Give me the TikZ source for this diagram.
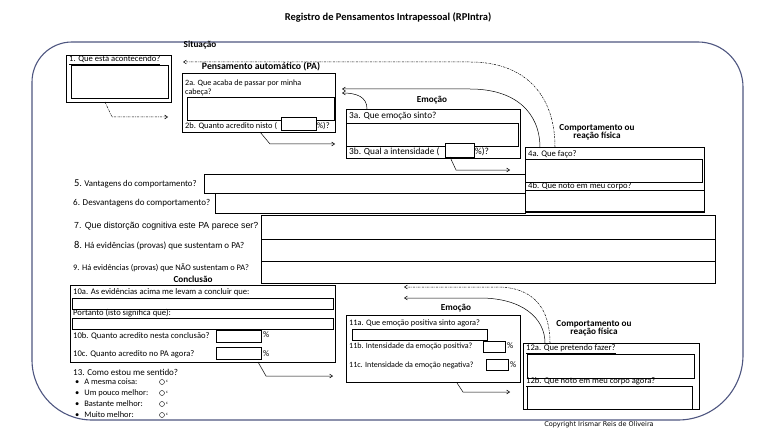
\documentclass[tikz,border=0pt]{standalone}
\usepackage{fontspec}
\setmainfont{Carlito}
\newfontfamily\arialf{Liberation Sans}
\newfontfamily\dejaf{DejaVu Sans}
\usetikzlibrary{arrows.meta}
\definecolor{framec}{RGB}{78,86,128}
\newcommand\bx[6][]{\node[bxs,#1,minimum width={(#5-#3)*1pt},minimum height={(#6-#4)*1pt}] (#2) at (#3,#4) {};}
\newcommand\fs[1]{\fontsize{#1}{#1}\selectfont}
\begin{document}
\begin{tikzpicture}[x=1pt,y=-1pt,
  bxs/.style={draw, line width=0.7pt, anchor=north west, inner sep=0pt, outer sep=0pt, fill=white},
  tx/.style={anchor=west, inner sep=0pt, font=\fs{8.6}},
  hd/.style={inner sep=0pt, font=\bfseries\fs{9.2}, align=center},
  arr/.style={-{Straight Barb[length=3pt,width=4pt]}, line width=0.5pt},
  darr/.style={arr, dash pattern=on 2pt off 1pt on 0.6pt off 1pt},
  rad/.style={circle, draw, inner sep=0pt, minimum size=5pt, line width=0.4pt},
]
\useasboundingbox (0,0) rectangle (768,433);
% frame
\draw[framec, line width=1.1pt] (72,42) -- (698,42)
  .. controls (722.9,42) and (743,62.1) .. (743,87) -- (743,355)
  .. controls (743,390.9) and (713.9,420) .. (678,420) -- (92,420)
  .. controls (58.9,420) and (32,393.1) .. (32,360) -- (32,82)
  .. controls (32,59.9) and (49.9,42) .. (72,42) -- cycle;
% title
\node[inner sep=0pt, font=\bfseries\fs{10.5}] (title) at (388,17) {Registro de Pensamentos Intrapessoal (RPIntra)};
% headers
\node[hd] (hsit) at (200,45) {Situação};
\node[hd, font=\bfseries\fs{9.8}] (hpa) at (261,67) {Pensamento automático (PA)};
\node[hd] (hemo) at (432,100) {Emoção};
\node[hd, align=center] (hcomp) at (597,132) {Comportamento ou\\[-1pt]reação física};
\node[hd] (hconc) at (193,279) {Conclusão};
\node[hd] (hemo2) at (456,308) {Emoção};
\node[hd, align=center] (hcomp2) at (594,328) {Comportamento ou\\[-1pt]reação física};
% box 1
\bx{b1}{66}{55}{171}{102}
\bx{b1i}{71}{65}{168}{98}
\node[tx] (t1) at (69,60) {\underline{1. Que está acontecendo?}};
% box 2
\bx{b2}{182}{73}{335}{132}
\node[tx, font=\fs{8.1}] (t2a) at (185,83) {2a. Que acaba de passar por minha};
\node[tx, font=\fs{8.1}] (t2a2) at (185,92) {cabeça?};
\bx{b2i}{187}{97}{334}{120}
\node[tx, font=\fs{8.4}] (t2b) at (185,126) {2b. Quanto acredito nisto (};
\bx{p2}{281}{117}{316}{130}
\node[tx, font=\fs{8.4}] (t2c) at (317,126) {\%)?};
% box 3
\bx{b3}{346}{109}{520}{158}
\node[tx, font=\fs{9.3}] (t3a) at (349,116) {3a. Que emoção sinto?};
\bx{b3i}{346}{123}{518}{146}
\node[tx, font=\fs{9.3}] (t3b) at (349,152) {3b. Qual a intensidade (};
\bx{p3}{445}{143}{474}{157}
\node[tx, font=\fs{9.3}] (t3c) at (475,152) {\%)?};
% box 4
\bx{b4}{525}{147}{704}{212}
\node[tx] (t4a) at (528,154) {4a. Que faço?};
\bx{b4a}{525}{159}{702}{182}
\node[tx] (t4b) at (528,186) {4b. Que noto em meu corpo?};
\bx[line width=1pt]{b4b}{525}{190}{704}{211}
% rows 5-9
\bx{b5}{204}{174}{525}{193}
\node[tx, font=\fs{8.8}] (t5) at (74,184) {{\fs{10.5}5}. Vantagens do comportamento?};
\bx{b6}{215}{193}{525}{213}
\node[tx, font=\fs{9}] (t6) at (73,203) {6. Desvantagens do comportamento?};
\bx{r7}{261}{215}{715}{239}
\bx{r8}{261}{239}{715}{261}
\bx{r9}{261}{261}{715}{283}
\node[anchor=west, inner sep=0pt, font=\arialf\fs{8.8}] (t7) at (74,226) {7. Que distorção cognitiva este PA parece ser?};
\node[tx, font=\fs{9}] (t8) at (74,246) {{\fs{10.5}8}. Há evidências (provas) que sustentam o PA?};
\node[tx, font=\fs{8.4}] (t9) at (73,268) {9. Há evidências (provas) que NÃO sustentam o PA?};
% box 10
\bx{b10}{70}{285}{335}{362}
\node[tx] (t10a) at (73,292) {10a. As evidências acima me levam a concluir que:};
\bx{b10i}{72}{298}{333}{309}
\node[tx] (t10p) at (73,313) {Portanto (isto significa que):};
\bx{b10j}{72}{318}{333}{329}
\node[tx] (t10b) at (73,336) {10b. Quanto acredito nesta conclusão?};
\bx{p10b}{216}{330}{261}{342}
\node[tx] (c10b) at (263,335) {\%};
\node[tx] (t10c) at (73,354) {10c. Quanto acredito no PA agora?};
\bx{p10c}{216}{347}{261}{359}
\node[tx] (c10c) at (263,354) {\%};
% 13
\node[tx, font=\fs{9}] (t13) at (73,372) {13. Como estou me sentido?};
\node[tx, font=\fs{8.4}] (u1) at (75,382) {•\hspace{5pt}A mesma coisa:};
\node[tx, font=\fs{8.4}] (u2) at (75,393) {•\hspace{5pt}Um pouco melhor:};
\node[tx, font=\fs{8.4}] (u3) at (75,404) {•\hspace{5pt}Bastante melhor:};
\node[tx, font=\fs{8.4}] (u4) at (75,415) {•\hspace{5pt}Muito melhor:};
\node[rad] (o1) at (162,382) {};
\node[rad] (o2) at (162,393) {};
\node[rad] (o3) at (162,404) {};
\node[rad] (o4) at (162,415) {};
\node[tx, font=\fs{4.5}] (k1) at (166,381) {c};
\node[tx, font=\fs{4.5}] (k2) at (166,392) {c};
\node[tx, font=\fs{4.5}] (k3) at (166,403) {c};
\node[tx, font=\fs{4.5}] (k4) at (166,414) {c};
% box 11
\bx{b11}{346}{315}{520}{382}
\node[tx, font=\fs{8.3}] (t11a) at (349,323) {11a. Que emoção positiva sinto agora?};
\bx{b11i}{352}{329}{487}{340}
\node[tx, font=\fs{8}] (t11b) at (349,346) {11b. Intensidade da emoção positiva?};
\bx{p11b}{483}{341}{505}{352}
\node[tx] (c11b) at (507,346) {\%};
\node[tx, font=\fs{8}] (t11c) at (349,365) {11c. Intensidade da emoção negativa?};
\bx{p11c}{486}{359}{508}{370}
\node[tx] (c11c) at (510,365) {\%};
% box 12
\bx{b12}{523}{343}{699}{409}
\node[tx] (t12a) at (526,349) {\underline{12a. Que pretendo fazer?}};
\bx{b12a}{527}{354}{694}{378}
\node[tx] (t12b) at (526,382) {\underline{12b. Que noto em meu corpo agora?}};
\bx{b12b}{527}{386}{692}{409}
% copyright
\node[inner sep=0pt, font=\dejaf\fs{6.5}] (copy) at (599,425) {Copyright Irismar Reis de Oliveira};
% connector coordinates
\coordinate (a1s) at (105,102); \coordinate (a1m) at (112,117); \coordinate (a1e) at (168,117);
\coordinate (a2s) at (260,132); \coordinate (a2m) at (270,144); \coordinate (a2e) at (335,144);
\coordinate (a3s) at (450,157); \coordinate (a3m) at (456,170); \coordinate (a3e) at (510,170);
\coordinate (a10s) at (258,362); \coordinate (a10m) at (266,376); \coordinate (a10e) at (333,376);
\coordinate (a11s) at (457,383); \coordinate (a11m) at (463,392); \coordinate (a11e) at (510,392);
\coordinate (d1s) at (555,147); \coordinate (d1m) at (470,62); \coordinate (d1e) at (183,62);
\coordinate (s1s) at (540,148); \coordinate (s1m) at (470,89); \coordinate (s1e) at (342,89);
\coordinate (s2s) at (367,109); \coordinate (s2e) at (342,93);
\coordinate (d2s) at (550,343); \coordinate (d2m) at (497,287); \coordinate (d2e) at (404,287);
\coordinate (s3s) at (545,343); \coordinate (s3m) at (480,298); \coordinate (s3e) at (404,298);
% connectors
\draw[darr] (a1s) -- (a1m) -- (a1e);
\draw[arr] (a2s) -- (a2m) -- (a2e);
\draw[arr] (a3s) -- (a3m) -- (a3e);
\draw[arr] (a10s) -- (a10m) -- (a10e);
\draw[arr] (a11s) -- (a11m) -- (a11e);
\draw[darr] (d1s) .. controls (555,98) and (528,62) .. (d1m) -- (d1e);
\draw[arr] (s1s) .. controls (540,112) and (515,89) .. (s1m) -- (s1e);
\draw[arr] (s2s) .. controls (367,97) and (357,93) .. (s2e);
\draw[darr] (d2s) .. controls (550,310) and (535,287) .. (d2m) -- (d2e);
\draw[arr] (s3s) .. controls (545,318) and (522,298) .. (s3m) -- (s3e);
\end{tikzpicture}
\end{document}
